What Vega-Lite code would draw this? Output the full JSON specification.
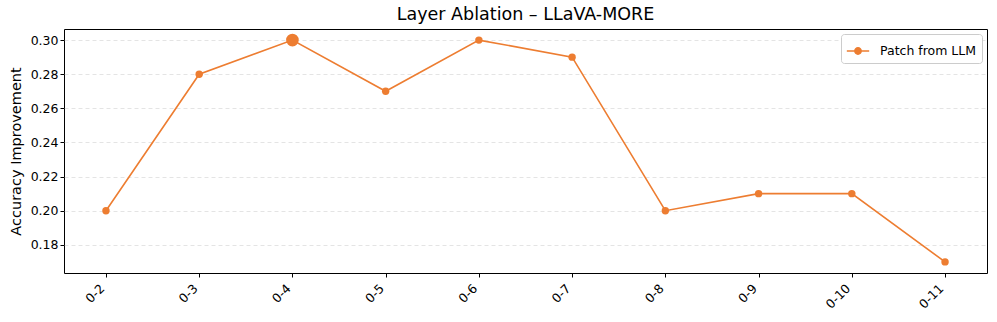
{
  "$schema": "https://vega.github.io/schema/vega-lite/v6.json",
  "width": 923,
  "height": 244,
  "autosize": {"type": "none"},
  "padding": {"left": 64, "top": 29, "right": 10, "bottom": 49},
  "background": "white",
  "title": {"text": "Layer Ablation – LLaVA-MORE", "font": "DejaVu Sans", "fontSize": 17.5, "fontWeight": "normal", "color": "black", "offset": 6, "anchor": "middle"},
  "data": {"values": [
    {"layers": "0-2", "acc": 0.20, "series": "Patch from LLM"},
    {"layers": "0-3", "acc": 0.28, "series": "Patch from LLM"},
    {"layers": "0-4", "acc": 0.30, "series": "Patch from LLM"},
    {"layers": "0-5", "acc": 0.27, "series": "Patch from LLM"},
    {"layers": "0-6", "acc": 0.30, "series": "Patch from LLM"},
    {"layers": "0-7", "acc": 0.29, "series": "Patch from LLM"},
    {"layers": "0-8", "acc": 0.20, "series": "Patch from LLM"},
    {"layers": "0-9", "acc": 0.21, "series": "Patch from LLM"},
    {"layers": "0-10", "acc": 0.21, "series": "Patch from LLM"},
    {"layers": "0-11", "acc": 0.17, "series": "Patch from LLM"}
  ]},
  "encoding": {
    "x": {"field": "layers", "type": "ordinal", "sort": null,
      "scale": {"type": "point", "padding": 0.45},
      "axis": {"title": null, "labelAngle": -45, "labelAlign": "right", "labelBaseline": "middle", "labelFontSize": 12.5, "labelFont": "DejaVu Sans", "labelColor": "black", "tickColor": "black", "tickSize": 4, "domain": false, "grid": false, "labelPadding": 9, "labelOffset": -4}},
    "y": {"field": "acc", "type": "quantitative",
      "scale": {"domain": [0.1635, 0.3065], "nice": false, "zero": false},
      "axis": {"title": "Accuracy Improvement", "titleFont": "DejaVu Sans", "titleFontSize": 14.5, "titleFontWeight": "normal", "titleColor": "black", "titlePadding": 7,
        "values": [0.18, 0.20, 0.22, 0.24, 0.26, 0.28, 0.30], "format": ".2f",
        "labelFontSize": 12.5, "labelFont": "DejaVu Sans", "labelColor": "black", "tickColor": "black", "tickSize": 4, "domain": false,
        "grid": true, "gridDash": [4, 3], "gridColor": "#dddddd", "gridWidth": 0.8}}
  },
  "layer": [
    {
      "mark": {"type": "line", "strokeWidth": 1.6, "point": {"filled": true, "size": 55, "opacity": 1}},
      "encoding": {
        "color": {"field": "series", "type": "nominal", "scale": {"range": ["#ED7D31"]},
          "legend": {"title": null, "orient": "top-right", "offset": 5,
            "labelFont": "DejaVu Sans", "labelFontSize": 12.5, "labelColor": "black",
            "symbolType": "M-1,0H1M-0.28,0A0.28,0.28 0 1,1 0.28,0A0.28,0.28 0 1,1 -0.28,0Z",
            "symbolFillColor": "#ED7D31", "symbolStrokeColor": "#ED7D31", "symbolSize": 500, "symbolStrokeWidth": 1.6,
            "strokeColor": "#cccccc", "fillColor": "white", "padding": 5, "cornerRadius": 3, "labelOffset": 10}}
      }
    },
    {
      "transform": [{"filter": "datum.layers === '0-4'"}],
      "mark": {"type": "point", "filled": true, "size": 160, "opacity": 1, "color": "#ED7D31"}
    }
  ],
  "config": {
    "view": {"stroke": "black", "strokeWidth": 1}
  }
}
